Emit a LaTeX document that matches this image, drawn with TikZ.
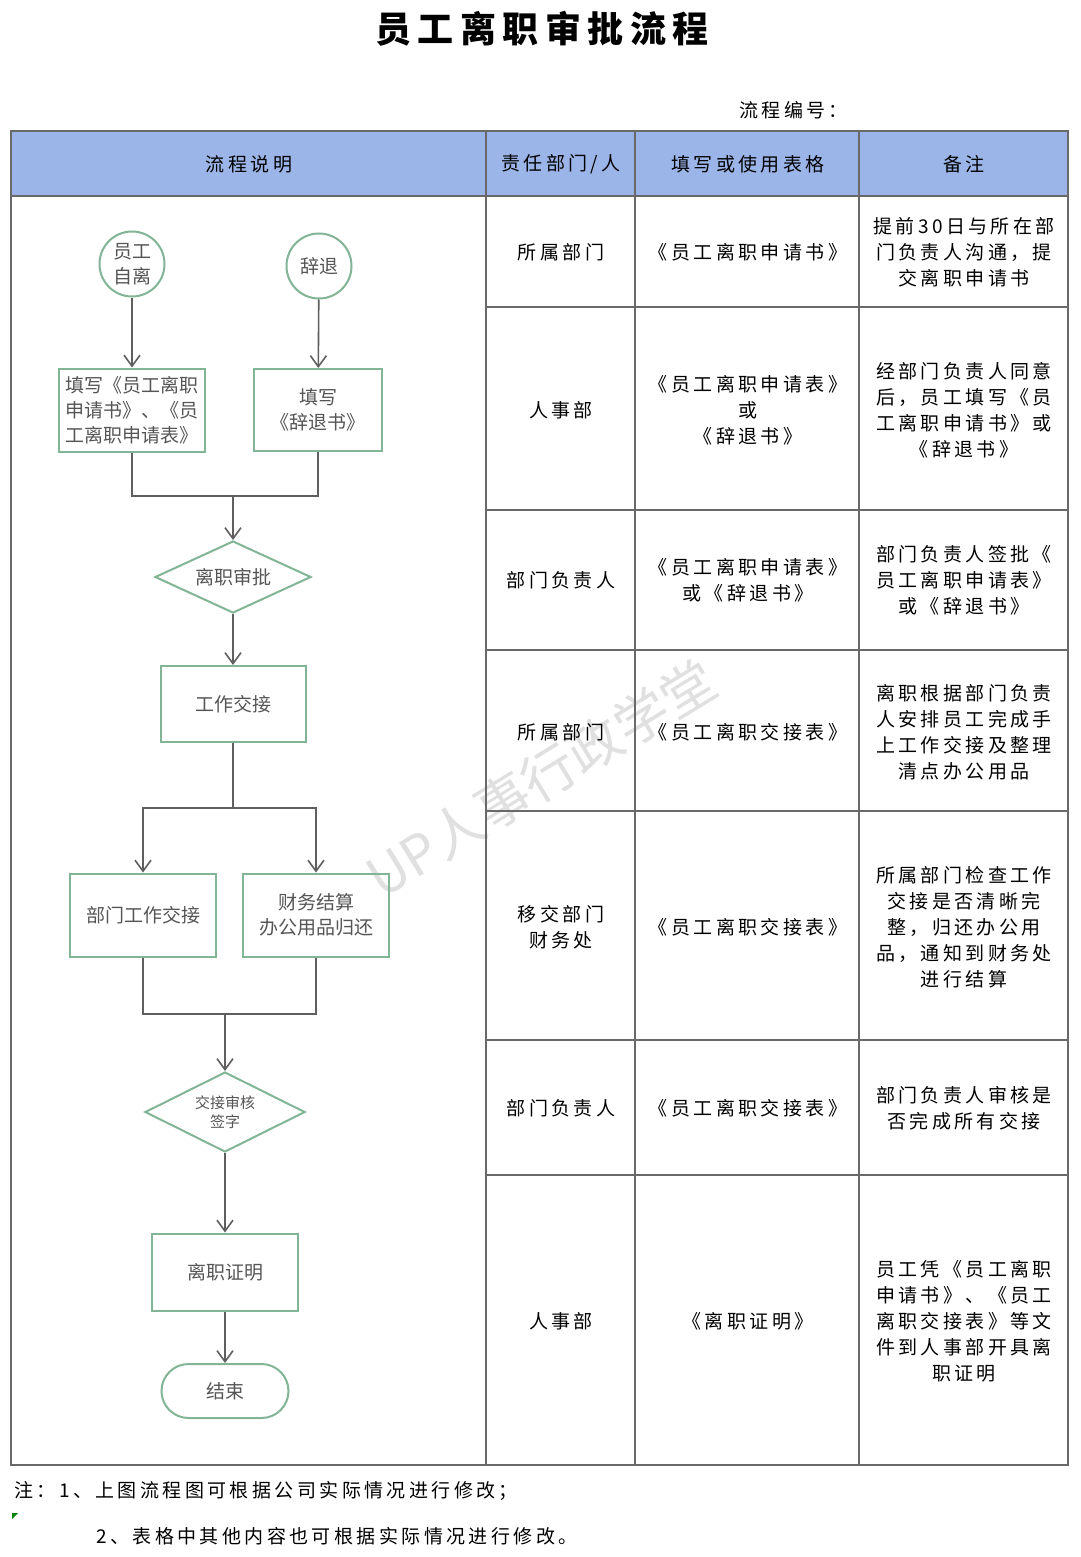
\documentclass[tikz,border=0pt]{standalone}
\usepackage{fontspec}
\usetikzlibrary{shapes.geometric,arrows.meta}
\newfontfamily\cjkfont[LetterSpace=18]{Noto Sans CJK SC}
\newfontfamily\flowfont{Noto Sans CJK SC}
\newcommand{\celltxt}{\cjkfont\fontsize{19}{26}\selectfont}
\newcommand{\flowtxt}{\flowfont\fontsize{19}{25}\selectfont}
\definecolor{flowgreen}{RGB}{130,181,150}
\definecolor{flowline}{RGB}{95,95,95}
\definecolor{flowtext}{RGB}{85,85,85}
\definecolor{headblue}{RGB}{155,181,232}
\definecolor{gridgray}{RGB}{105,105,105}
\begin{document}
\begin{tikzpicture}[x=1pt, y=-1pt,
    flowbox/.style={rectangle, draw=flowgreen, line width=2pt, text=flowtext, font=\flowtxt, inner sep=2pt, align=center},
    flowcirc/.style={circle, draw=flowgreen, line width=2pt, text=flowtext, font=\flowtxt, minimum size=65pt, inner sep=0pt, align=center},
    flowdia/.style={diamond, draw=flowgreen, line width=2pt, text=flowtext, inner sep=0pt, aspect=2, align=center},
    flowend/.style={rectangle, rounded corners=27pt, draw=flowgreen, line width=2pt, text=flowtext, font=\flowtxt, minimum width=127pt, minimum height=54pt},
    link/.style={draw=flowline, line width=1.6pt},
    arr/.style={link, -{Straight Barb[length=11pt, width=16pt, line width=1.6pt]}},
    cell/.style={font=\celltxt, align=center, inner sep=0pt}]
    \useasboundingbox (0,0) rectangle (1080,1557);
    \fill[white] (0,0) rectangle (1080,1557);

    % title
    \node[font=\cjkfont\bfseries\fontsize{36}{40}\selectfont] (title) at (542,29) {员工离职审批流程};
    \node[cell, anchor=west] (code) at (739,110) {流程编号：};

    % watermark
    \node[rotate=31.5, text=black!12, font=\flowfont\fontsize{54}{54}\selectfont] (mark) at (541,778) {UP人事行政学堂};

    % table
    \fill[headblue] (11,131) rectangle (1068,196);
    \draw[gridgray, line width=1.6pt] (11,196) -- (1068,196);
    \foreach \y in {307,510,650,811,1040,1175}
        \draw[gridgray, line width=1.6pt] (486,\y) -- (1068,\y);
    \foreach \x in {486,635,859}
        \draw[gridgray, line width=1.6pt] (\x,131) -- (\x,1465);
    \draw[gridgray, line width=1.8pt] (11,131) rectangle (1068,1465);

    \node[cell] (h1) at (249,164) {流程说明};
    \node[cell] (h2) at (561,164) {责任部门/人};
    \node[cell] (h3) at (748,164) {填写或使用表格};
    \node[cell] (h4) at (964,164) {备注};

    \node[cell] (r1a) at (561,252) {所属部门};
    \node[cell] (r1b) at (748,252) {《员工离职申请书》};
    \node[cell] (r1c) at (964,252) {提前30日与所在部\\门负责人沟通，提\\交离职申请书};

    \node[cell] (r2a) at (561,410) {人事部};
    \node[cell] (r2b) at (748,410) {《员工离职申请表》\\或\\《辞退书》};
    \node[cell] (r2c) at (964,410) {经部门负责人同意\\后，员工填写《员\\工离职申请书》或\\《辞退书》};

    \node[cell] (r3a) at (561,580) {部门负责人};
    \node[cell] (r3b) at (748,580) {《员工离职申请表》\\或《辞退书》};
    \node[cell] (r3c) at (964,580) {部门负责人签批《\\员工离职申请表》\\或《辞退书》};

    \node[cell] (r4a) at (561,732) {所属部门};
    \node[cell] (r4b) at (748,732) {《员工离职交接表》};
    \node[cell] (r4c) at (964,732) {离职根据部门负责\\人安排员工完成手\\上工作交接及整理\\清点办公用品};

    \node[cell] (r5a) at (561,927) {移交部门\\财务处};
    \node[cell] (r5b) at (748,927) {《员工离职交接表》};
    \node[cell] (r5c) at (964,927) {所属部门检查工作\\交接是否清晰完\\整，归还办公用\\品，通知到财务处\\进行结算};

    \node[cell] (r6a) at (561,1108) {部门负责人};
    \node[cell] (r6b) at (748,1108) {《员工离职交接表》};
    \node[cell] (r6c) at (964,1108) {部门负责人审核是\\否完成所有交接};

    \node[cell] (r7a) at (561,1321) {人事部};
    \node[cell] (r7b) at (748,1321) {《离职证明》};
    \node[cell] (r7c) at (964,1321) {员工凭《员工离职\\申请书》、《员工\\离职交接表》等文\\件到人事部开具离\\职证明};

    % flow chart
    \node[flowcirc] (self) at (132,264) {员工\\自离};
    \node[flowcirc] (fire) at (319,266) {辞退};
    \node[flowbox, align=left, minimum width=146pt, minimum height=83pt] (form1) at (132,410) {填写《员工离职\\申请书》、《员\\工离职申请表》};
    \node[flowbox, minimum width=128pt, minimum height=82pt] (form2) at (318,410) {填写\\《辞退书》};
    \coordinate (join1) at (233,496);
    \node[flowdia, font=\flowtxt, minimum width=156pt, minimum height=72pt] (approve) at (233,577) {离职审批};
    \node[flowbox, minimum width=145pt, minimum height=76pt] (handover) at (233,704) {工作交接};
    \coordinate (split) at (233,808);
    \node[flowbox, minimum width=146pt, minimum height=83pt] (dept) at (143,915) {部门工作交接};
    \node[flowbox, minimum width=146pt, minimum height=83pt] (finance) at (316,915) {财务结算\\办公用品归还};
    \coordinate (join2) at (225,1014);
    \node[flowdia, font=\flowfont\fontsize{15}{19}\selectfont, minimum width=160pt, minimum height=80pt] (check) at (225,1112) {交接审核\\签字};
    \node[flowbox, minimum width=146pt, minimum height=77pt] (cert) at (225,1272) {离职证明};
    \node[flowend] (finish) at (225,1391) {结束};

    \draw[arr] (self) -- (form1);
    \draw[arr] (fire) -- (form2);
    \draw[link] (form1.south) |- (join1) -| (form2.south);
    \draw[arr] (join1) -- (approve);
    \draw[arr] (approve) -- (handover);
    \draw[link] (handover) -- (split);
    \draw[arr] (split) -| (dept.north);
    \draw[arr] (split) -| (finance.north);
    \draw[link] (dept.south) |- (join2) -| (finance.south);
    \draw[arr] (join2) -- (check);
    \draw[arr] (check) -- (cert);
    \draw[arr] (cert) -- (finish);

    % notes
    \node[cell, anchor=west] (note1) at (14,1491) {注：1、上图流程图可根据公司实际情况进行修改；};
    \node[cell, anchor=west] (note2) at (96,1536) {2、表格中其他内容也可根据实际情况进行修改。};
    \fill[green!50!black] (12,1513) -- (18,1513) -- (12,1519) -- cycle;
\end{tikzpicture}
\end{document}
